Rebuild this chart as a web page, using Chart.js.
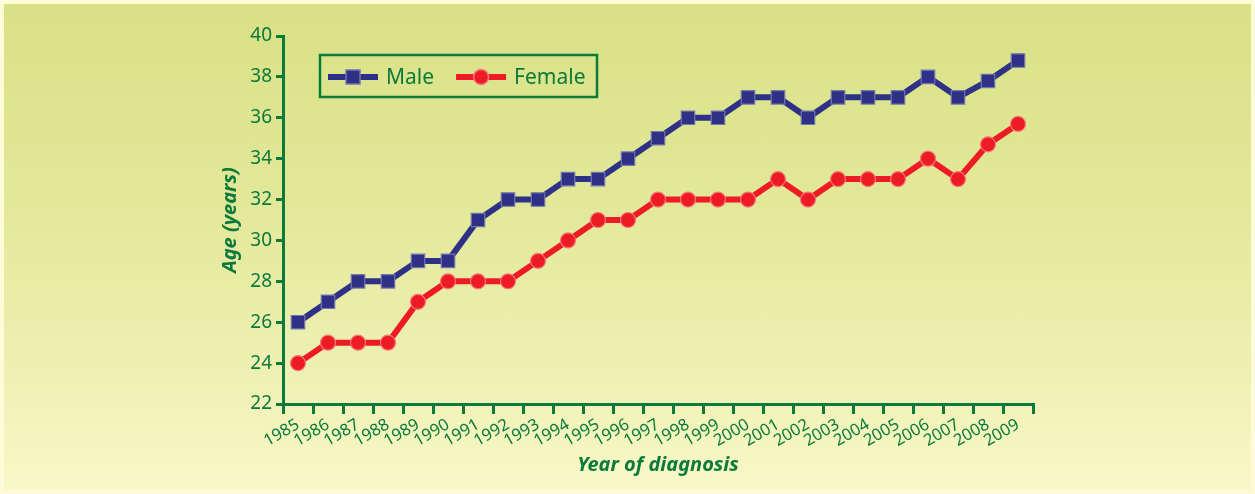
<!DOCTYPE html>
<html>
<head>
<meta charset="utf-8">
<script src="https://cdn.jsdelivr.net/npm/chart.js@4"></script>
<style>
  body { margin: 0; background: #fffbd8; }
  #wrap { position: relative; width: 1255px; height: 494px; }
  #panel { position: absolute; left: 4px; top: 4px; width: 1247px; height: 486px;
           background: linear-gradient(to bottom, #d8e185 0%, #e2e898 40%, #f0f1b6 80%, #f9f8c8 100%); }
  canvas { position: absolute; left: 0; top: 0; }
</style>
</head>
<body>
<div id="wrap">
  <div id="panel"></div>
  <canvas id="ageChart" width="1255" height="494"></canvas>
</div>
<script>
const years = ['1985','1986','1987','1988','1989','1990','1991','1992','1993','1994','1995','1996','1997',
               '1998','1999','2000','2001','2002','2003','2004','2005','2006','2007','2008','2009'];
const maleAge = [26, 27, 28, 28, 29, 29, 31, 32, 32, 33, 33, 34, 35, 36, 36, 37, 37, 36, 37, 37, 37, 38, 37, 37.8, 38.8];
const femaleAge = [24, 25, 25, 25, 27, 28, 28, 28, 29, 30, 31, 31, 32, 32, 32, 32, 33, 32, 33, 33, 33, 34, 33, 34.7, 35.7];

const green = '#0b7a3b';
const navy = '#2e3185';
const red = '#ed1c24';

// legend drawn as a boxed key with line + marker samples
const boxedLegend = {
    id: 'boxedLegend',
    afterDraw(chart) {
        const ctx = chart.ctx;
        const x0 = chart.chartArea.left + 37;
        const y0 = chart.chartArea.top + 19;
        ctx.save();
        ctx.strokeStyle = green;
        ctx.lineWidth = 2.5;
        ctx.strokeRect(x0, y0, 277, 42);
        const midY = y0 + 22;
        let x = x0 + 8;
        ctx.font = '21px "Noto Sans"';
        ctx.textBaseline = 'middle';
        chart.data.datasets.forEach(ds => {
            ctx.strokeStyle = ds.borderColor;
            ctx.lineWidth = 6;
            ctx.beginPath();
            ctx.moveTo(x, midY);
            ctx.lineTo(x + 50, midY);
            ctx.stroke();
            ctx.fillStyle = ds.pointBackgroundColor;
            ctx.strokeStyle = ds.pointBorderColor;
            ctx.lineWidth = 1.5;
            if (ds.pointStyle === 'rect') {
                ctx.fillRect(x + 18, midY - 7, 14, 14);
                ctx.strokeRect(x + 18, midY - 7, 14, 14);
            } else {
                ctx.beginPath();
                ctx.arc(x + 25, midY, 7.5, 0, Math.PI * 2);
                ctx.fill();
                ctx.stroke();
            }
            ctx.fillStyle = green;
            ctx.fillText(ds.label, x + 58, midY + 1);
            x += 58 + ctx.measureText(ds.label).width + 22;
        });
        ctx.restore();
    }
};

new Chart(document.getElementById('ageChart').getContext('2d'), {
    type: 'line',
    data: {
        labels: years,
        datasets: [{
            label: 'Male',
            data: maleAge,
            borderColor: navy,
            borderWidth: 6,
            pointStyle: 'rect',
            pointRadius: 9.5,
            pointBackgroundColor: navy,
            pointBorderColor: '#7276ad',
            pointBorderWidth: 1.2
        }, {
            label: 'Female',
            data: femaleAge,
            borderColor: red,
            borderWidth: 6,
            pointStyle: 'circle',
            pointRadius: 7.5,
            pointBackgroundColor: red,
            pointBorderColor: '#f7767a',
            pointBorderWidth: 1.2
        }]
    },
    options: {
        responsive: false,
        animation: false,
        layout: { padding: { left: 0, right: 222, top: 36, bottom: 0 } },
        plugins: { legend: { display: false }, tooltip: { enabled: false } },
        scales: {
            x: {
                offset: true,
                afterFit: scale => { scale.height = 90; },
                grid: { offset: true, drawOnChartArea: false, color: green, lineWidth: 3, tickLength: 10 },
                border: { color: green, width: 3 },
                ticks: { color: green, font: { family: 'Noto Sans', size: 16.5 }, minRotation: 30, maxRotation: 30, padding: 1, autoSkip: false },
                title: { display: true, text: 'Year of diagnosis', color: green,
                         font: { family: 'Noto Sans', size: 20, weight: 'bold', style: 'italic' },
                         padding: { top: 0, bottom: 17 } }
            },
            y: {
                min: 22,
                max: 40,
                afterFit: scale => { scale.width = 283; },
                grid: { drawOnChartArea: false, color: green, lineWidth: 3, tickLength: 7 },
                border: { color: green, width: 3 },
                ticks: { stepSize: 2, color: green, font: { family: 'Noto Sans', size: 19 }, padding: 4 },
                title: { display: true, text: 'Age (years)', color: green,
                         font: { family: 'Noto Sans', size: 20, weight: 'bold', style: 'italic' },
                         padding: { top: 218, bottom: 0 } }
            }
        }
    },
    plugins: [boxedLegend]
});
</script>
</body>
</html>
